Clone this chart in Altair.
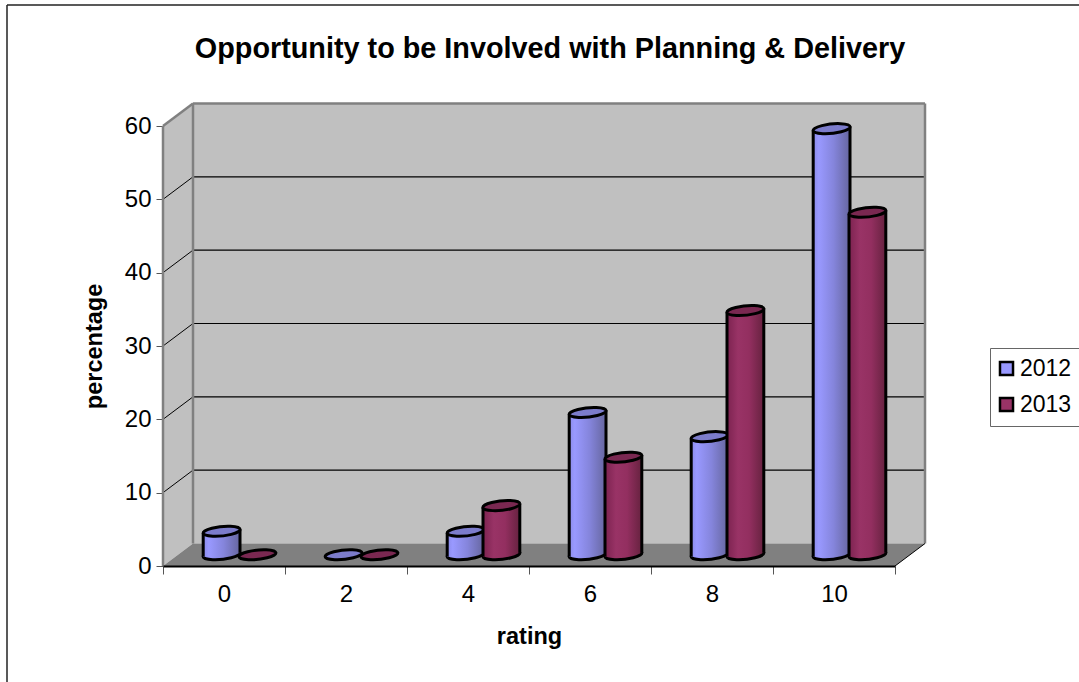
import altair as alt
import pandas as pd

ratings = ["0", "2", "4", "6", "8", "10"]
years = ["2012", "2013"]
values_2012 = [3.2, 0, 3.2, 19.4, 16.1, 58.1]
values_2013 = [0, 0, 6.7, 13.3, 33.3, 46.7]
y_ticks = [0, 10, 20, 30, 40, 50, 60]

FONT = "Liberation Sans"
PLOT_W, PLOT_H = 732, 440
SLOT_PX = PLOT_W / len(ratings)
UNIT_PX = PLOT_H / 60

# Oblique projection of the chart box, expressed in axis units
DEPTH_X = 30 / SLOT_PX
DEPTH_Y = 22.5 / UNIT_PX
CYL_R = 18.4 / SLOT_PX
CYL_TILT = 1.9 / UNIT_PX
ELLIPSE = "M-0.9945,0.1045 A1,0.25 -6 1 1 0.9945,-0.1045 A1,0.25 -6 1 1 -0.9945,0.1045 Z"
ELLIPSE_SIZE = (2 * 18.6) ** 2

OUTLINE = "#000000"
OUTLINE_W = 3
WALL = "#C0C0C0"
FLOOR = "#808080"


def shaded(stops):
    return alt.Gradient(
        gradient="linear", x1=0, x2=1, y1=0, y2=0,
        stops=[alt.GradientStop(offset=o, color=c) for o, c in stops],
    )


BLUE = shaded([(0, "#8C8CEA"), (0.15, "#9999FF"), (0.55, "#8585DC"), (1, "#66669F")])
RED = shaded([(0, "#7C2350"), (0.3, "#993366"), (0.6, "#932F60"), (1, "#66223F")])
series_style = {
    "2012": {"body": BLUE, "top": "#7C7CCB", "legend": "#9999FF"},
    "2013": {"body": RED, "top": "#7A2851", "legend": "#993366"},
}

x_scale = alt.Scale(domain=[0, 6], nice=False, zero=False)
y_scale = alt.Scale(domain=[0, 60], nice=False, zero=False)
x_q = alt.X("x:Q", axis=None, scale=x_scale)
y_q = alt.Y(
    "y:Q",
    scale=y_scale,
    axis=alt.Axis(
        orient="left", values=y_ticks, title="percentage", titleFont=FONT, titleFontSize=23.5,
        titleFontWeight="bold", titleColor="black", titlePadding=18,
        labelFont=FONT, labelFontSize=24, labelColor="black", labelPadding=5,
        tickSize=7, tickColor="#555555", domain=False, grid=False,
    ),
)
y_plain = alt.Y("y:Q", axis=None, scale=y_scale)


def wall(rows, color):
    return alt.Chart(pd.DataFrame(rows)).mark_area(
        color=color, interpolate="linear", opacity=1
    ).encode(x=x_q, y=y_plain, y2="y2:Q")


side_wall = wall(
    [{"x": 0, "y": 60, "y2": 0}, {"x": DEPTH_X, "y": 60 + DEPTH_Y, "y2": DEPTH_Y}], WALL
)
back_wall = wall(
    [{"x": DEPTH_X, "y": 60 + DEPTH_Y, "y2": DEPTH_Y}, {"x": 6 + DEPTH_X, "y": 60 + DEPTH_Y, "y2": DEPTH_Y}],
    WALL,
)
floor = wall(
    [
        {"x": 0, "y": 0, "y2": 0},
        {"x": DEPTH_X, "y": DEPTH_Y, "y2": 0},
        {"x": 6, "y": DEPTH_Y, "y2": 0},
        {"x": 6 + DEPTH_X, "y": DEPTH_Y, "y2": DEPTH_Y},
    ],
    FLOOR,
)


def rules(rows, color, width):
    return alt.Chart(pd.DataFrame(rows)).mark_rule(color=color, strokeWidth=width).encode(
        x=x_q, x2="x2:Q", y=y_plain, y2="y2:Q"
    )


inner_ticks = [v for v in y_ticks if 0 < v < 60]
grid_back = rules(
    [{"x": DEPTH_X, "x2": 6 + DEPTH_X, "y": v + DEPTH_Y, "y2": v + DEPTH_Y} for v in inner_ticks],
    "black", 1.2,
)
grid_side = rules(
    [{"x": 0, "x2": DEPTH_X, "y": v, "y2": v + DEPTH_Y} for v in inner_ticks], "black", 1
)
wall_edges = rules(
    [
        {"x": 0, "x2": 0, "y": 0, "y2": 60},
        {"x": DEPTH_X, "x2": DEPTH_X, "y": DEPTH_Y, "y2": 60 + DEPTH_Y},
        {"x": 0, "x2": DEPTH_X, "y": 60, "y2": 60 + DEPTH_Y},
        {"x": DEPTH_X, "x2": 6 + DEPTH_X, "y": 60 + DEPTH_Y, "y2": 60 + DEPTH_Y},
        {"x": 6 + DEPTH_X, "x2": 6 + DEPTH_X, "y": DEPTH_Y, "y2": 60 + DEPTH_Y},
    ],
    FLOOR, 2.5,
)
floor_edge = rules(
    [{"x": 6, "x2": 6 + DEPTH_X, "y": 0, "y2": DEPTH_Y}], "black", 1
)


def cylinders(values, year, shift):
    style = series_style[year]
    base = DEPTH_Y / 2
    ends, bodies, sides = [], [], []
    for i, v in enumerate(values):
        cx = i + 0.5 + DEPTH_X / 2 + shift
        ends.append({"x": cx, "low": base, "y": base + v})
        bodies.append({"id": i, "x": cx - CYL_R, "y": base + v - CYL_TILT, "y2": base - CYL_TILT})
        bodies.append({"id": i, "x": cx + CYL_R, "y": base + v + CYL_TILT, "y2": base + CYL_TILT})
        if v > 0:
            sides.append({"x": cx - CYL_R, "x2": cx - CYL_R, "y": base + v - CYL_TILT, "y2": base - CYL_TILT})
            sides.append({"x": cx + CYL_R, "x2": cx + CYL_R, "y": base + v + CYL_TILT, "y2": base + CYL_TILT})
    ends = pd.DataFrame(ends)
    lower = alt.Chart(ends[ends["y"] > base]).mark_point(
        shape=ELLIPSE, size=ELLIPSE_SIZE, fill=style["body"], stroke=OUTLINE,
        strokeWidth=OUTLINE_W, opacity=1,
    ).encode(x=x_q, y=alt.Y("low:Q", axis=None, scale=y_scale))
    body = alt.Chart(pd.DataFrame(bodies)).mark_area(
        color=style["body"], interpolate="linear", opacity=1
    ).encode(x=x_q, y=y_plain, y2="y2:Q", detail="id:N")
    edge = rules(sides, OUTLINE, OUTLINE_W)
    upper = alt.Chart(ends).mark_point(
        shape=ELLIPSE, size=ELLIPSE_SIZE, fill=style["top"], stroke=OUTLINE,
        strokeWidth=OUTLINE_W, opacity=1,
    ).encode(x=x_q, y=y_plain)
    return [lower, body, edge, upper]


series_2012 = cylinders(values_2012, "2012", -CYL_R + 1 / SLOT_PX)
series_2013 = cylinders(values_2013, "2013", CYL_R)

# Category axis: ticks on the slot edges, labels in the slot centres
category_axis = alt.Chart(pd.DataFrame({"rating": ratings})).mark_point(opacity=0).encode(
    x=alt.X(
        "rating:N", sort=ratings,
        scale=alt.Scale(paddingInner=0, paddingOuter=0),
        axis=alt.Axis(
            orient="bottom", title="rating", titleFont=FONT, titleFontSize=23.5, titleFontWeight="bold",
            titleColor="black", titlePadding=18, labelFont=FONT, labelFontSize=24,
            labelColor="black", labelAngle=0, labelPadding=8, tickBand="extent",
            tickSize=8, tickColor="#555555", domainColor="black", domainWidth=2, zindex=1,
        ),
    )
)

# Legend swatches carry the base colour of each series
legend_layer = alt.Chart(pd.DataFrame({"year": years})).mark_square(size=0, opacity=0).encode(
    color=alt.Color(
        "year:N",
        scale=alt.Scale(domain=years, range=[series_style[y]["legend"] for y in years]),
        legend=alt.Legend(
            title=None, orient="none", legendX=827, legendY=222, symbolType="square",
            symbolSize=170, symbolStrokeColor="black", symbolStrokeWidth=2.5,
            symbolOpacity=1, symbolOffset=-4, labelFont=FONT, labelFontSize=23,
            labelColor="black", labelOffset=2, rowPadding=11, padding=9,
            strokeColor="#666666", fillColor="white",
        ),
    )
)

frame = [
    alt.Chart(pd.DataFrame({"k": [0]})).mark_rule(color="#222222", strokeWidth=1.5).encode(
        x=alt.value(-156), x2=alt.value(916), y=alt.value(-121)
    ),
    alt.Chart(pd.DataFrame({"k": [0]})).mark_rule(color="#222222", strokeWidth=1.5).encode(
        x=alt.value(-156), y=alt.value(-121), y2=alt.value(556)
    ),
]

value_axis = alt.Chart(pd.DataFrame({"y": y_ticks})).mark_point(opacity=0).encode(
    y=y_q
)

chart = (
    alt.layer(
        side_wall, back_wall, floor, grid_back, grid_side, wall_edges, floor_edge,
        *series_2012, *series_2013, legend_layer, *frame, category_axis, value_axis,
    )
    .resolve_scale(x="independent")
    .resolve_axis(x="independent", y="independent")
    .properties(
        width=PLOT_W, height=PLOT_H,
        padding={"left": 163, "top": 126, "right": 184, "bottom": 116},
        autosize=alt.AutoSizeParams(type="none"),
        background="white",
        title=alt.TitleParams(
            "Opportunity to be Involved with Planning & Delivery",
            font=FONT, fontSize=28.8, fontWeight="bold", color="black",
            anchor="middle", dx=21, offset=-60,
        ),
    )
    .configure_view(stroke=None)
)

chart.save("out.html", embed_options={"renderer": "svg", "actions": False})
